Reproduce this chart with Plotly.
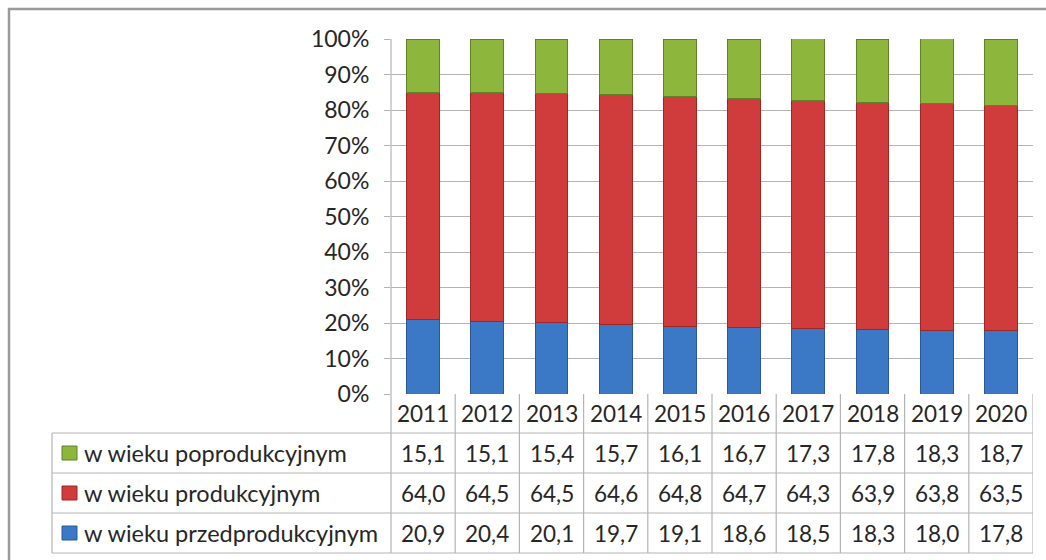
import plotly.graph_objects as go

years = ["2011", "2012", "2013", "2014", "2015", "2016", "2017", "2018", "2019", "2020"]
post = [15.1, 15.1, 15.4, 15.7, 16.1, 16.7, 17.3, 17.8, 18.3, 18.7]
prod = [64.0, 64.5, 64.5, 64.6, 64.8, 64.7, 64.3, 63.9, 63.8, 63.5]
pre = [20.9, 20.4, 20.1, 19.7, 19.1, 18.6, 18.5, 18.3, 18.0, 17.8]
names = ["w wieku poprodukcyjnym", "w wieku produkcyjnym", "w wieku przedprodukcyjnym"]
y_ticks = [0, 10, 20, 30, 40, 50, 60, 70, 80, 90, 100]

W, H = 1046, 560
FONT = "Lato"
FS = 23
FS_NUM = 22.5
FS_LEG = 23.5
TXT = "#262626"
GRID = "#b4b4b4"
colors = {"post": "#8db63c", "prod": "#d03b3b", "pre": "#3b78c6"}
edges = {"post": "#62822a", "prod": "#9c2727", "pre": "#2a5896"}


def px(x):
    return x / W


def py(y):
    return 1 - y / H


x0p, x1p = 391, 1033
ytop, ybot = 39, 394
legend_left = 52
row_edges = [394, 433, 473, 513, 553]

fig = go.Figure()
for key, vals, nm in [("pre", pre, names[2]), ("prod", prod, names[1]), ("post", post, names[0])]:
    fig.add_trace(go.Bar(
        x=years, y=vals, name=nm,
        marker=dict(color=colors[key], line=dict(color=edges[key], width=1)),
        showlegend=False, hoverinfo="x+y+name",
    ))

shapes = []
annotations = []

shapes.append(dict(type="rect", xref="paper", yref="paper",
                   x0=px(9), x1=px(1060), y0=py(580), y1=py(9),
                   line=dict(color="#9a9a9a", width=2.5), layer="below"))

line_style = dict(color=GRID, width=1.2)
for ye in row_edges[1:]:
    shapes.append(dict(type="line", xref="paper", yref="paper",
                       x0=px(legend_left), x1=px(x1p), y0=py(ye), y1=py(ye), line=line_style))
shapes.append(dict(type="line", xref="paper", yref="paper",
                   x0=px(legend_left), x1=px(legend_left), y0=py(row_edges[1]), y1=py(row_edges[-1]), line=line_style))
shapes.append(dict(type="line", xref="paper", yref="paper",
                   x0=px(x0p), x1=px(x0p), y0=py(ytop), y1=py(row_edges[-1]), line=line_style))
for i in range(1, len(years) + 1):
    shapes.append(dict(type="line", xref="x", yref="paper",
                       x0=i - 0.5, x1=i - 0.5, y0=py(row_edges[0]), y1=py(row_edges[-1]), line=line_style))

hc = (row_edges[0] + row_edges[1]) / 2
for i, yr in enumerate(years):
    annotations.append(dict(x=i, y=py(hc), xref="x", yref="paper", text=yr, showarrow=False,
                            font=dict(family=FONT, size=FS_NUM, color=TXT), xanchor="center", yanchor="middle"))

rows = [("post", post, names[0]), ("prod", prod, names[1]), ("pre", pre, names[2])]
for r, (key, vals, nm) in enumerate(rows):
    yc = (row_edges[r + 1] + row_edges[r + 2]) / 2
    for i, v in enumerate(vals):
        annotations.append(dict(x=i, y=py(yc), xref="x", yref="paper",
                                text=f"{v:.1f}".replace(".", ","), showarrow=False,
                                font=dict(family=FONT, size=FS_NUM, color=TXT),
                                xanchor="center", yanchor="middle"))
    shapes.append(dict(type="rect", xref="paper", yref="paper",
                       x0=px(62), x1=px(77), y0=py(yc + 7), y1=py(yc - 7),
                       fillcolor=colors[key], line=dict(color=edges[key], width=1)))
    annotations.append(dict(x=px(82), y=py(yc), xref="paper", yref="paper", text=nm, showarrow=False,
                            font=dict(family=FONT, size=FS_LEG, color=TXT), xanchor="left", yanchor="middle"))

fig.update_layout(
    width=W, height=H,
    margin=dict(l=0, r=0, t=0, b=0, pad=0, autoexpand=False),
    paper_bgcolor="white", plot_bgcolor="white",
    barmode="stack", bargap=0.49,
    shapes=shapes, annotations=annotations,
    xaxis=dict(domain=[px(x0p), px(x1p)], range=[-0.5, len(years) - 0.5], type="category",
               automargin=False,
               showticklabels=False, showgrid=False, zeroline=False, showline=False, ticks=""),
    yaxis=dict(domain=[py(ybot), py(ytop)], range=[0, 100], tickvals=y_ticks, automargin=False,
               ticktext=[f"{v}%" for v in y_ticks], showgrid=True, gridcolor=GRID, gridwidth=1.2,
               zeroline=False, showline=False, ticks="outside", ticklen=6, tickcolor=GRID,
               ticklabelstandoff=10,
               tickfont=dict(family=FONT, size=FS, color=TXT)),
    font=dict(family=FONT),
)

post_js = ("document.documentElement.style.margin='0';document.body.style.margin='0';"
           "document.body.style.padding='0';document.documentElement.style.overflow='hidden';"
           "var d=document.getElementById('{plot_id}');"
           "if(d){d.style.position='absolute';d.style.top='0px';d.style.left='0px';}")

fig.write_html("out.html", post_script=post_js, config={"displayModeBar": False})
